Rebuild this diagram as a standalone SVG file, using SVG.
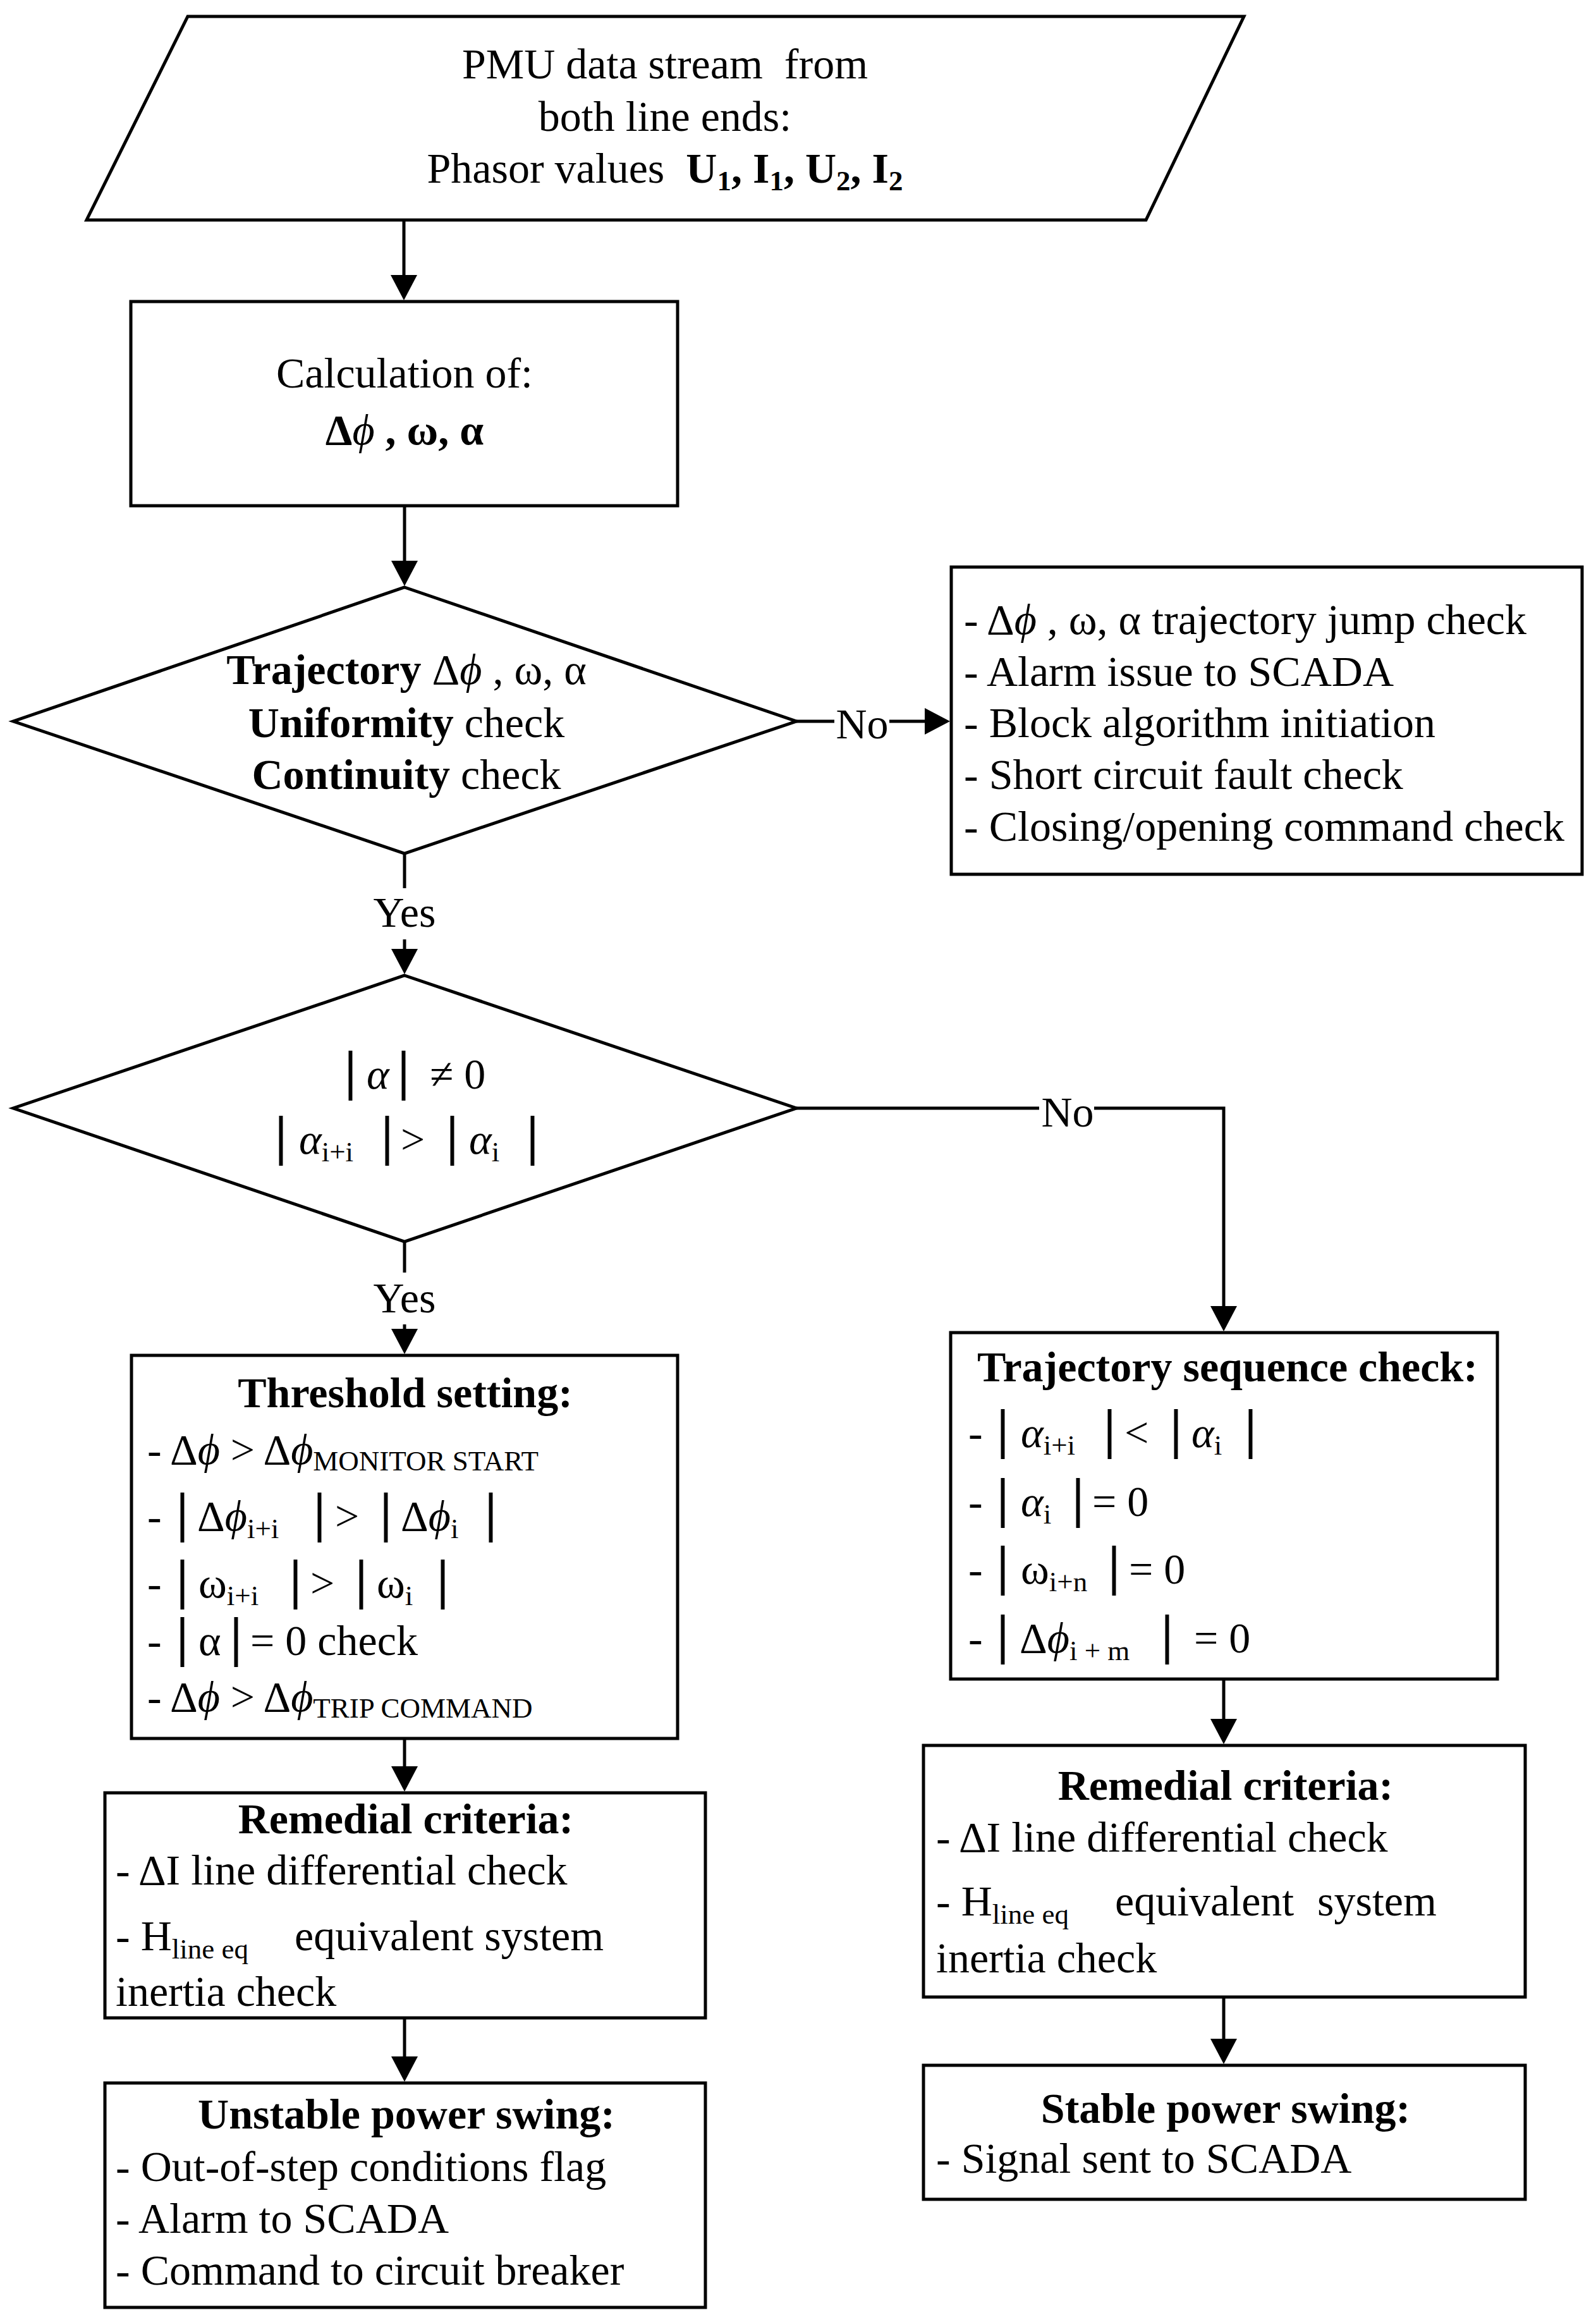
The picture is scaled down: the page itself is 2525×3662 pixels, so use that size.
<svg xmlns="http://www.w3.org/2000/svg" width="2525" height="3662" viewBox="0 0 2525 3662">
<style>
.t{font-family:"Liberation Serif","DejaVu Serif",serif;font-size:68px;fill:#000}
.b{font-weight:bold}
.n{font-weight:normal}
.i{font-style:italic}
.sub{font-size:45px}
.bar{font-size:86px;font-weight:bold;font-style:normal}
.shape{fill:#fff;stroke:#000;stroke-width:5}
.conn{fill:none;stroke:#000;stroke-width:5}
</style>
<defs>
<marker id="ah" markerUnits="userSpaceOnUse" markerWidth="42" markerHeight="44" refX="2" refY="21" orient="auto" viewBox="0 0 42 42">
<path d="M0,0 L40,21 L0,42 z" fill="#000"/>
</marker>
</defs>
<rect width="2525" height="3662" fill="#fff"/>

<g id="connectors">
<line class="conn" x1="639" y1="348" x2="639" y2="437" marker-end="url(#ah)"/>
<line class="conn" x1="640" y1="800" x2="640" y2="889" marker-end="url(#ah)"/>
<line class="conn" x1="1260" y1="1141" x2="1320" y2="1141"/>
<line class="conn" x1="1407" y1="1141" x2="1465" y2="1141" marker-end="url(#ah)"/>
<line class="conn" x1="640" y1="1350" x2="640" y2="1405"/>
<line class="conn" x1="640" y1="1486" x2="640" y2="1503" marker-end="url(#ah)"/>
<line class="conn" x1="1260" y1="1753" x2="1644" y2="1753"/>
<polyline class="conn" points="1731,1753 1936,1753 1936,2068" marker-end="url(#ah)"/>
<line class="conn" x1="640" y1="1964" x2="640" y2="2013"/>
<line class="conn" x1="640" y1="2095" x2="640" y2="2104" marker-end="url(#ah)"/>
<line class="conn" x1="640" y1="2750" x2="640" y2="2796" marker-end="url(#ah)"/>
<line class="conn" x1="640" y1="3192" x2="640" y2="3255" marker-end="url(#ah)"/>
<line class="conn" x1="1936" y1="2656" x2="1936" y2="2721" marker-end="url(#ah)"/>
<line class="conn" x1="1936" y1="3159" x2="1936" y2="3227" marker-end="url(#ah)"/>
<text class="t" x="1364" y="1168" text-anchor="middle">No</text>
<text class="t" x="640" y="1466" text-anchor="middle">Yes</text>
<text class="t" x="1689" y="1782" text-anchor="middle">No</text>
<text class="t" x="640" y="2076" text-anchor="middle">Yes</text>
</g>

<g id="input">
<polygon class="shape" points="297,26 1968,26 1813,348 137,348"/>
<text class="t" x="1052" y="124" text-anchor="middle">PMU data stream&#160; from</text>
<text class="t" x="1052" y="207" text-anchor="middle">both line ends:</text>
<text class="t" x="1052" y="289" text-anchor="middle">Phasor values&#160; <tspan class="b">U</tspan><tspan class="b sub" dy="12">1</tspan><tspan class="b" dy="-12">, I</tspan><tspan class="b sub" dy="12">1</tspan><tspan class="b" dy="-12">, U</tspan><tspan class="b sub" dy="12">2</tspan><tspan class="b" dy="-12">, I</tspan><tspan class="b sub" dy="12">2</tspan></text>
</g>

<g id="calc">
<rect class="shape" x="207" y="477" width="865" height="323"/>
<text class="t" x="640" y="613" text-anchor="middle">Calculation of:</text>
<text class="t b" x="640" y="703" text-anchor="middle">Δ<tspan class="n i">ϕ</tspan> , ω, α</text>
</g>

<g id="decision1">
<polygon class="shape" points="640,929 1260,1141 640,1350 21,1141"/>
<text class="t" x="643" y="1082" text-anchor="middle"><tspan class="b">Trajectory</tspan> Δ<tspan class="i">ϕ</tspan> , ω, α</text>
<text class="t" x="643" y="1166" text-anchor="middle"><tspan class="b">Uniformity</tspan> check</text>
<text class="t" x="643" y="1248" text-anchor="middle"><tspan class="b">Continuity</tspan> check</text>
</g>

<g id="jumpcheck">
<rect class="shape" x="1505" y="897" width="998" height="486"/>
<text class="t" x="1525" y="1003">- Δ<tspan class="i">ϕ</tspan> , ω, α trajectory jump check</text>
<text class="t" x="1525" y="1085">- Alarm issue to SCADA</text>
<text class="t" x="1525" y="1166">- Block algorithm initiation</text>
<text class="t" x="1525" y="1248">- Short circuit fault check</text>
<text class="t" x="1525" y="1330">- Closing/opening command check</text>
</g>

<g id="decision2">
<polygon class="shape" points="640,1543 1260,1753 640,1964 21,1753"/>
<text class="t" y="1722"><tspan class="bar" x="545">|</tspan><tspan class="i" x="580">α</tspan><tspan class="bar" x="629">|</tspan><tspan x="680">≠ 0</tspan></text>
<text class="t" y="1825"><tspan class="bar" x="435">|</tspan><tspan class="i" x="473">α</tspan><tspan class="sub" dy="12">i+i</tspan><tspan class="bar" x="603" dy="-12">|</tspan><tspan x="634">&gt;</tspan><tspan class="bar" x="706">|</tspan><tspan class="i" x="742">α</tspan><tspan class="sub" dy="12">i</tspan><tspan class="bar" x="833" dy="-12">|</tspan></text>
</g>

<g id="threshold">
<rect class="shape" x="208" y="2144" width="864" height="606"/>
<text class="t b" x="641" y="2226" text-anchor="middle">Threshold setting:</text>
<text class="t" x="233" y="2316">- Δ<tspan class="i">ϕ</tspan> &gt; Δ<tspan class="i">ϕ</tspan><tspan class="sub" dy="10">MONITOR START</tspan></text>
<text class="t" y="2421"><tspan x="233">-</tspan><tspan class="bar" x="279">|</tspan><tspan x="312">Δ</tspan><tspan class="i">ϕ</tspan><tspan class="sub" dy="12">i+i</tspan><tspan class="bar" x="496" dy="-12">|</tspan><tspan x="530">&gt;</tspan><tspan class="bar" x="601">|</tspan><tspan x="634">Δ</tspan><tspan class="i">ϕ</tspan><tspan class="sub" dy="12">i</tspan><tspan class="bar" x="767" dy="-12">|</tspan></text>
<text class="t" y="2527"><tspan x="233">-</tspan><tspan class="bar" x="279">|</tspan><tspan x="314">ω</tspan><tspan class="sub" dy="12">i+i</tspan><tspan class="bar" x="458" dy="-12">|</tspan><tspan x="491">&gt;</tspan><tspan class="bar" x="562">|</tspan><tspan x="596">ω</tspan><tspan class="sub" dy="12">i</tspan><tspan class="bar" x="691" dy="-12">|</tspan></text>
<text class="t" y="2618"><tspan x="233">-</tspan><tspan class="bar" x="279">|</tspan><tspan x="314">α</tspan><tspan class="bar" x="364">|</tspan><tspan x="396">= 0 check</tspan></text>
<text class="t" x="233" y="2707">- Δ<tspan class="i">ϕ</tspan> &gt; Δ<tspan class="i">ϕ</tspan><tspan class="sub" dy="10">TRIP COMMAND</tspan></text>
</g>

<g id="sequence">
<rect class="shape" x="1504" y="2108" width="865" height="548"/>
<text class="t b" x="1942" y="2185" text-anchor="middle">Trajectory sequence check:</text>
<text class="t" y="2289"><tspan x="1532">-</tspan><tspan class="bar" x="1577">|</tspan><tspan class="i" x="1615">α</tspan><tspan class="sub" dy="12">i+i</tspan><tspan class="bar" x="1746" dy="-12">|</tspan><tspan x="1779">&lt;</tspan><tspan class="bar" x="1851">|</tspan><tspan class="i" x="1885">α</tspan><tspan class="sub" dy="12">i</tspan><tspan class="bar" x="1969" dy="-12">|</tspan></text>
<text class="t" y="2398"><tspan x="1532">-</tspan><tspan class="bar" x="1577">|</tspan><tspan class="i" x="1615">α</tspan><tspan class="sub" dy="12">i</tspan><tspan class="bar" x="1696" dy="-12">|</tspan><tspan x="1728">= 0</tspan></text>
<text class="t" y="2505"><tspan x="1532">-</tspan><tspan class="bar" x="1577">|</tspan><tspan x="1615">ω</tspan><tspan class="sub" dy="12">i+n</tspan><tspan class="bar" x="1753" dy="-12">|</tspan><tspan x="1786">= 0</tspan></text>
<text class="t" y="2614"><tspan x="1532">-</tspan><tspan class="bar" x="1577">|</tspan><tspan x="1613">Δ</tspan><tspan class="i">ϕ</tspan><tspan class="sub" dy="12">i + m</tspan><tspan class="bar" x="1837" dy="-12">|</tspan><tspan x="1889">= 0</tspan></text>
</g>

<g id="remedial-left">
<rect class="shape" x="166" y="2836" width="950" height="356"/>
<text class="t b" x="642" y="2900" text-anchor="middle">Remedial criteria:</text>
<text class="t" x="183" y="2981">- ΔI line differential check</text>
<text class="t" x="183" y="3085">- H<tspan class="sub" dy="13">line eq</tspan><tspan x="466" dy="-13">equivalent system</tspan></text>
<text class="t" x="183" y="3173">inertia check</text>
</g>

<g id="unstable">
<rect class="shape" x="166" y="3295" width="950" height="355"/>
<text class="t b" x="643" y="3367" text-anchor="middle">Unstable power swing:</text>
<text class="t" x="183" y="3450">- Out-of-step conditions flag</text>
<text class="t" x="183" y="3532">- Alarm to SCADA</text>
<text class="t" x="183" y="3614">- Command to circuit breaker</text>
</g>

<g id="remedial-right">
<rect class="shape" x="1461" y="2761" width="952" height="398"/>
<text class="t b" x="1939" y="2847" text-anchor="middle">Remedial criteria:</text>
<text class="t" x="1481" y="2929">- ΔI line differential check</text>
<text class="t" x="1481" y="3030">- H<tspan class="sub" dy="13">line eq</tspan><tspan x="1764" dy="-13">equivalent</tspan><tspan x="2084">system</tspan></text>
<text class="t" x="1481" y="3120">inertia check</text>
</g>

<g id="stable">
<rect class="shape" x="1461" y="3267" width="952" height="212"/>
<text class="t b" x="1939" y="3358" text-anchor="middle">Stable power swing:</text>
<text class="t" x="1481" y="3437">- Signal sent to SCADA</text>
</g>
</svg>
